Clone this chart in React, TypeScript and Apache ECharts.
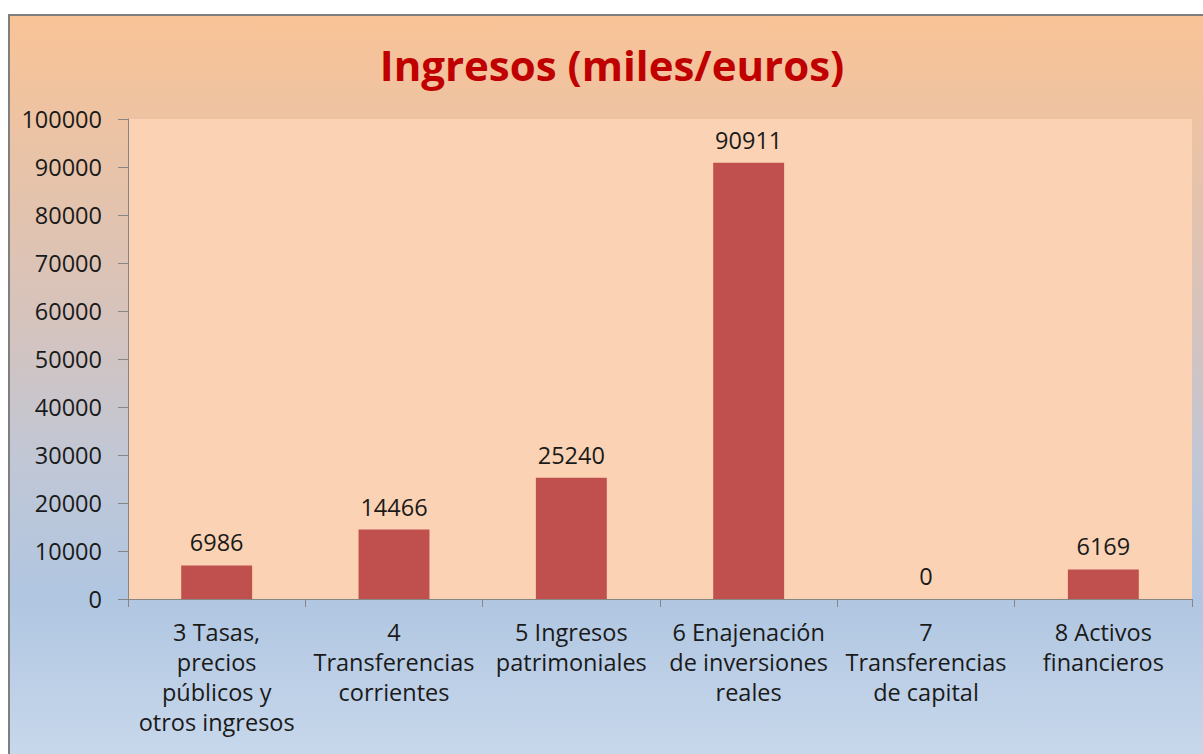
import React, { useEffect, useRef } from "react";
import * as echarts from "echarts";

const titleText = "Ingresos (miles/euros)";
const categories = [
  "3 Tasas,\nprecios\npúblicos y\notros ingresos",
  "4\nTransferencias\ncorrientes",
  "5 Ingresos\npatrimoniales",
  "6 Enajenación\nde inversiones\nreales",
  "7\nTransferencias\nde capital",
  "8 Activos\nfinancieros",
];
const values = [6986, 14466, 25240, 90911, 0, 6169];
const yMin = 0;
const yMax = 100000;
const yInterval = 10000;

const FONT = "'Open Sans', 'Noto Sans', sans-serif";

export default function App() {
  const ref = useRef<HTMLDivElement>(null);
  useEffect(() => {
    if (!ref.current) return;
    const chart = echarts.init(ref.current, undefined, { renderer: "svg" });
    chart.setOption({
      animation: false,
      backgroundColor: "#ffffff",
      textStyle: { fontFamily: FONT },
      graphic: [
        {
          type: "rect",
          z: -10,
          silent: true,
          shape: { x: 9, y: 15, width: 1200, height: 750 },
          style: {
            fill: new echarts.graphic.LinearGradient(0, 0, 0, 1, [
              { offset: 0, color: "#F9C396" },
              { offset: 0.2, color: "#E8C3A8" },
              { offset: 0.4, color: "#D6C3BC" },
              { offset: 0.6, color: "#C0C7D6" },
              { offset: 0.78, color: "#B0C6E1" },
              { offset: 1, color: "#C9D9EC" },
            ]),
            stroke: "#7F7F7F",
            lineWidth: 2,
          },
        },
        {
          type: "text",
          x: 612,
          y: 64,
          style: {
            text: titleText,
            fill: "#C00000",
            font: `bold 42px ${FONT}`,
            textAlign: "center",
            textVerticalAlign: "middle",
          },
        },
      ],
      grid: {
        left: 128,
        right: 11,
        top: 119,
        bottom: 155,
        show: true,
        backgroundColor: "#FBD3B4",
        borderWidth: 0,
      },
      xAxis: {
        type: "category",
        data: categories,
        axisLine: { show: true, lineStyle: { color: "#868686", width: 1 } },
        axisTick: { show: true, alignWithLabel: false, length: 8, lineStyle: { color: "#868686" } },
        axisLabel: {
          interval: 0,
          color: "#1A1A1A",
          fontFamily: FONT,
          fontSize: 23.5,
          lineHeight: 30,
          margin: 18,
        },
        splitLine: { show: false },
      },
      yAxis: {
        type: "value",
        min: yMin,
        max: yMax,
        interval: yInterval,
        axisLine: { show: true, lineStyle: { color: "#868686", width: 1 } },
        axisTick: { show: true, length: 10, lineStyle: { color: "#868686" } },
        axisLabel: {
          color: "#1A1A1A",
          fontFamily: FONT,
          fontSize: 23.5,
          margin: 26,
          formatter: (v: number) => String(v),
        },
        splitLine: { show: false },
      },
      series: [
        {
          type: "bar",
          data: values,
          barWidth: "40%",
          itemStyle: { color: "#C0504D" },
          label: {
            show: true,
            position: "top",
            distance: 11,
            color: "#1A1A1A",
            fontFamily: FONT,
            fontSize: 23.5,
          },
        },
      ],
    });
    return () => chart.dispose();
  }, []);
  return (
    <div
      ref={ref}
      style={{ position: "fixed", left: 0, top: 0, width: 1203, height: 754 }}
    />
  );
}
